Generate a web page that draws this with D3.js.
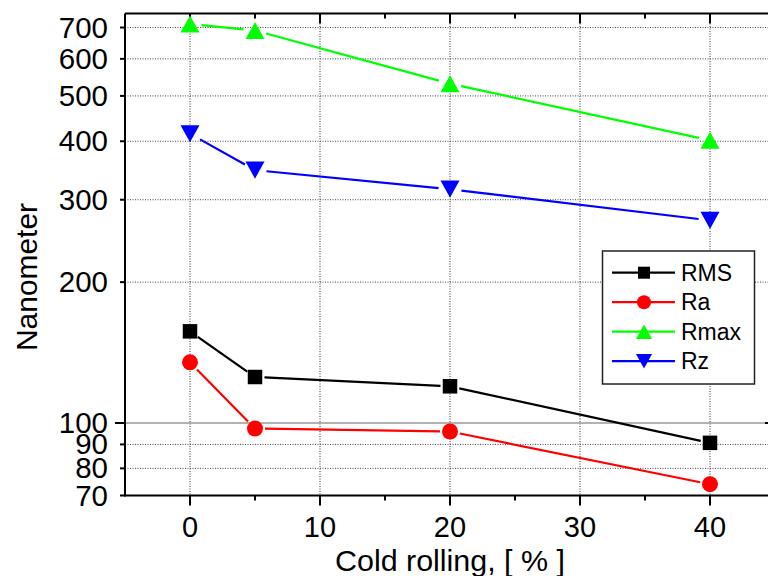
<!DOCTYPE html>
<html>
<head>
<meta charset="utf-8">
<script src="https://cdn.jsdelivr.net/npm/d3@7"></script>
<style>
  html, body { margin: 0; padding: 0; background: #fff; }
  svg { display: block; font-family: "Liberation Sans", Arial, sans-serif; }
</style>
</head>
<body>
<svg id="chart" width="768" height="576"></svg>
<script>
// ---- data ----
const coldRolling = [0, 5, 20, 40];
const seriesNames = ["RMS", "Ra", "Rmax", "Rz"];
const rmsValues  = [157, 125.4, 119.8, 90.7];
const raValues   = [134.8, 97.3, 95.9, 74.0];
const rmaxValues = [712, 690, 531, 402];
const rzValues   = [415, 347, 316, 271];
const xTickValues = [0, 10, 20, 30, 40];
const xMinorTickValues = [5, 15, 25, 35];
const yTickValues = [70, 80, 90, 100, 200, 300, 400, 500, 600, 700];
const yMajorTickValues = [100];
const xTitle = "Cold rolling, [ % ]";
const yTitle = "Nanometer";

// ---- layout ----
const svg = d3.select("#chart");
const L = 125, R = 775, T = 13.5, B = 495.5;
const x = d3.scaleLinear().domain([-5, 45]).range([L, R]);
const y = d3.scaleLog().domain([70, 750]).range([B, T]);

const series = [
  {name: seriesNames[0], values: rmsValues,  color: "#000000", shape: "square", size: 14.5, lsize: 12, gap: 9.5},
  {name: seriesNames[1], values: raValues,   color: "#ff0000", shape: "circle", size: 16,   lsize: 14, gap: 10},
  {name: seriesNames[2], values: rmaxValues, color: "#00ff00", shape: "up",     size: 19,   lsize: 16, gap: 11.5},
  {name: seriesNames[3], values: rzValues,   color: "#0000ff", shape: "down",   size: 19,   lsize: 16, gap: 11.5}
];

function markerPath(shape, s) {
  const h = s / 2;
  if (shape === "square") return `M${-h},${-h}H${h}V${h}H${-h}Z`;
  if (shape === "circle") return `M${h},0A${h},${h} 0 1,1 ${-h},0A${h},${h} 0 1,1 ${h},0Z`;
  const w = s / 2, hh = s * 0.45;
  if (shape === "up") return `M0,${-hh}L${w},${hh}L${-w},${hh}Z`;
  return `M0,${hh}L${w},${-hh}L${-w},${-hh}Z`;
}

// ---- gridlines ----
const grid = svg.append("g");
grid.selectAll("line.vg").data(xTickValues).join("line")
  .attr("x1", d => x(d)).attr("x2", d => x(d))
  .attr("y1", T).attr("y2", B)
  .attr("stroke", "#333").attr("stroke-width", 1).attr("stroke-dasharray", "1,1.5");
grid.selectAll("line.hg").data(yTickValues.filter(v => v > 70)).join("line")
  .attr("x1", L).attr("x2", R)
  .attr("y1", d => y(d)).attr("y2", d => y(d))
  .attr("stroke", d => yMajorTickValues.includes(d) ? "#999" : "#444")
  .attr("stroke-width", d => yMajorTickValues.includes(d) ? 1.5 : 1)
  .attr("stroke-dasharray", d => yMajorTickValues.includes(d) ? null : "1,1.5");

// ---- axes frame ----
const ax = svg.append("g").attr("stroke", "#000").attr("stroke-width", 2);
ax.append("line").attr("x1", L).attr("x2", R).attr("y1", B).attr("y2", B);
ax.append("line").attr("x1", L).attr("x2", R).attr("y1", T).attr("y2", T);
ax.append("line").attr("x1", L).attr("x2", L).attr("y1", T).attr("y2", B + 1);
ax.append("line").attr("x1", R).attr("x2", R).attr("y1", T).attr("y2", B);

// bottom ticks (outward), top ticks (inward)
ax.selectAll("line.xb").data(xTickValues.concat(xMinorTickValues)).join("line")
  .attr("x1", d => x(d)).attr("x2", d => x(d))
  .attr("y1", B).attr("y2", d => B + (xTickValues.includes(d) ? 10 : 5));
ax.selectAll("line.xt").data(xTickValues.concat(xMinorTickValues)).join("line")
  .attr("x1", d => x(d)).attr("x2", d => x(d))
  .attr("y1", T).attr("y2", d => T + (xTickValues.includes(d) ? 10 : 5));
// left ticks (outward), right ticks (inward)
ax.selectAll("line.yl").data(yTickValues).join("line")
  .attr("x1", L).attr("x2", d => L - (yMajorTickValues.includes(d) ? 10 : 5))
  .attr("y1", d => y(d)).attr("y2", d => y(d));
ax.selectAll("line.yr").data(yTickValues).join("line")
  .attr("x1", R).attr("x2", d => R - (yMajorTickValues.includes(d) ? 10 : 5))
  .attr("y1", d => y(d)).attr("y2", d => y(d));

// tick labels
svg.append("g").selectAll("text").data(xTickValues).join("text")
  .attr("x", d => x(d)).attr("y", 537)
  .attr("text-anchor", "middle").attr("font-size", 29).attr("fill", "#000")
  .text(d => d);
svg.append("g").selectAll("text").data(yTickValues).join("text")
  .attr("x", 108).attr("y", d => y(d) + 10)
  .attr("text-anchor", "end").attr("font-size", 29).attr("fill", "#000")
  .attr("textLength", d => String(d).length * 16.4).attr("lengthAdjust", "spacingAndGlyphs")
  .text(d => d);

// axis titles
svg.append("text").attr("x", (L + R) / 2).attr("y", 571)
  .attr("text-anchor", "middle").attr("font-size", 30).attr("fill", "#000")
  .attr("textLength", 230).attr("lengthAdjust", "spacingAndGlyphs")
  .text(xTitle);
svg.append("text").attr("transform", "translate(37,277) rotate(-90)")
  .attr("text-anchor", "middle").attr("font-size", 29).attr("fill", "#000")
  .attr("textLength", 148).attr("lengthAdjust", "spacingAndGlyphs")
  .text(yTitle);

// ---- series ----
const plot = svg.append("g");
series.forEach(s => {
  const pts = coldRolling.map((c, i) => [x(c), y(s.values[i])]);
  const segs = d3.pairs(pts).map(([a, b]) => {
    const dx = b[0] - a[0], dy = b[1] - a[1];
    const len = Math.hypot(dx, dy);
    const ux = dx / len, uy = dy / len;
    return [a[0] + ux * s.gap, a[1] + uy * s.gap, b[0] - ux * s.gap, b[1] - uy * s.gap];
  });
  plot.append("g").selectAll("line").data(segs).join("line")
    .attr("x1", d => d[0]).attr("y1", d => d[1]).attr("x2", d => d[2]).attr("y2", d => d[3])
    .attr("stroke", s.color).attr("stroke-width", 2.2);
  plot.append("g").selectAll("path").data(pts).join("path")
    .attr("transform", d => `translate(${d[0]},${d[1]})`)
    .attr("d", markerPath(s.shape, s.size))
    .attr("fill", s.color);
});

// ---- legend ----
const lg = svg.append("g");
lg.append("rect").attr("x", 602.5).attr("y", 251).attr("width", 152).attr("height", 133)
  .attr("fill", "#fff").attr("stroke", "#222").attr("stroke-width", 1.5);
series.forEach((s, i) => {
  const cy = 272.7 + i * 29.5;
  lg.append("line").attr("x1", 612).attr("x2", 675).attr("y1", cy).attr("y2", cy)
    .attr("stroke", s.color).attr("stroke-width", 2.2);
  lg.append("path").attr("transform", `translate(644,${cy})`)
    .attr("d", markerPath(s.shape, s.lsize)).attr("fill", s.color);
  lg.append("text").attr("x", 681).attr("y", cy + 8)
    .attr("font-size", 23).attr("fill", "#000").text(s.name);
});
</script>
</body>
</html>
